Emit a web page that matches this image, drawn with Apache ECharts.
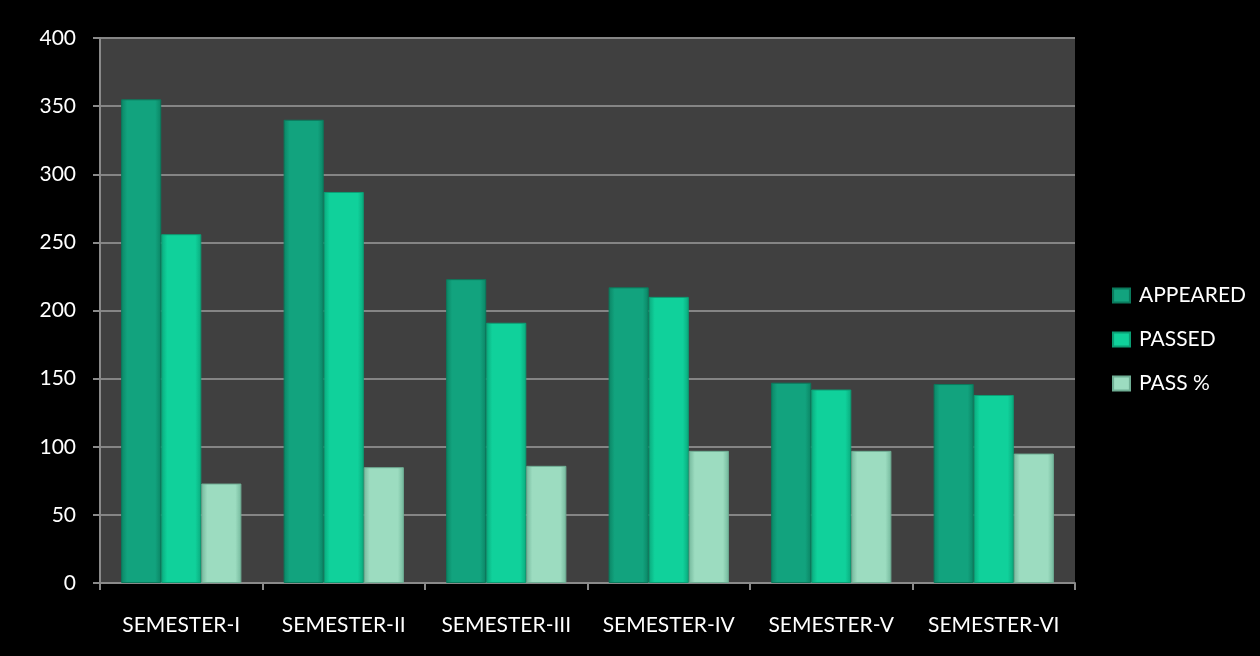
<!DOCTYPE html>
<html>
<head>
<meta charset="utf-8">
<script src="https://cdn.jsdelivr.net/npm/echarts@6/dist/echarts.min.js"></script>
<style>
html,body{margin:0;padding:0;background:#000;}
#c{width:1260px;height:656px;}
</style>
</head>
<body>
<div id="c"></div>
<script>
const categories = ['SEMESTER-I','SEMESTER-II','SEMESTER-III','SEMESTER-IV','SEMESTER-V','SEMESTER-VI'];
const appeared = [355, 340, 223, 217, 147, 146];
const passed = [256, 287, 191, 210, 142, 138];
const passPct = [73, 85, 86, 97, 97, 95];
const seriesNames = ['APPEARED','PASSED','PASS %'];

function hgrad(edge, mid) {
  return new echarts.graphic.LinearGradient(0,0,1,0,[
    {offset:0,color:edge},{offset:0.15,color:mid},{offset:0.85,color:mid},{offset:1,color:edge}
  ]);
}
const chart = echarts.init(document.getElementById('c'), null, {renderer:'canvas'});
const font = 'Lato, "Open Sans", sans-serif';
const colors = [
  hgrad('#0b8464', '#12a37e'),
  hgrad('#0aa97c', '#10d19b'),
  hgrad('#74b89c', '#9cdcc0')
];
const borders = ['#0a7a5c','#0b9e74','#6fae94'];
chart.setOption({
  backgroundColor:'#000',
  animation:false,
  textStyle:{fontFamily:font},
  grid:{left:100,right:185,top:38,bottom:73,show:true,backgroundColor:'#404040',borderWidth:0},
  legend:{
    orient:'vertical', left:1107, top:280, itemGap:23,
    itemWidth:17, itemHeight:14, icon:'rect',
    textStyle:{color:'#fff',fontSize:21,fontFamily:font,padding:[0,0,0,4]},
    data:seriesNames.map((n,i)=>({name:n,itemStyle:{color:colors[i]}}))
  },
  xAxis:{
    type:'category', data:categories,
    axisLine:{show:true,lineStyle:{color:'#8a8a8a',width:2}},
    axisTick:{show:true,length:7,interval:0,lineStyle:{color:'#8a8a8a',width:2}},
    axisLabel:{color:'#fff',fontSize:21,margin:32,interval:0,fontFamily:font}
  },
  yAxis:{
    type:'value', min:0, max:400, interval:50,
    axisLine:{show:true,lineStyle:{color:'#8a8a8a',width:2}},
    axisTick:{show:true,length:7,lineStyle:{color:'#8a8a8a',width:2}},
    splitLine:{show:true,lineStyle:{color:'#858585',width:2}},
    axisLabel:{color:'#fff',fontSize:21,margin:24,fontFamily:font}
  },
  series:[
    {name:seriesNames[0],type:'bar',data:appeared,barGap:'0%',barCategoryGap:'26%',itemStyle:{color:colors[0],borderColor:borders[0],borderWidth:1}},
    {name:seriesNames[1],type:'bar',data:passed,barGap:'0%',barCategoryGap:'26%',itemStyle:{color:colors[1],borderColor:borders[1],borderWidth:1}},
    {name:seriesNames[2],type:'bar',data:passPct,barGap:'0%',barCategoryGap:'26%',itemStyle:{color:colors[2],borderColor:borders[2],borderWidth:1}}
  ]
});
</script>
</body>
</html>
